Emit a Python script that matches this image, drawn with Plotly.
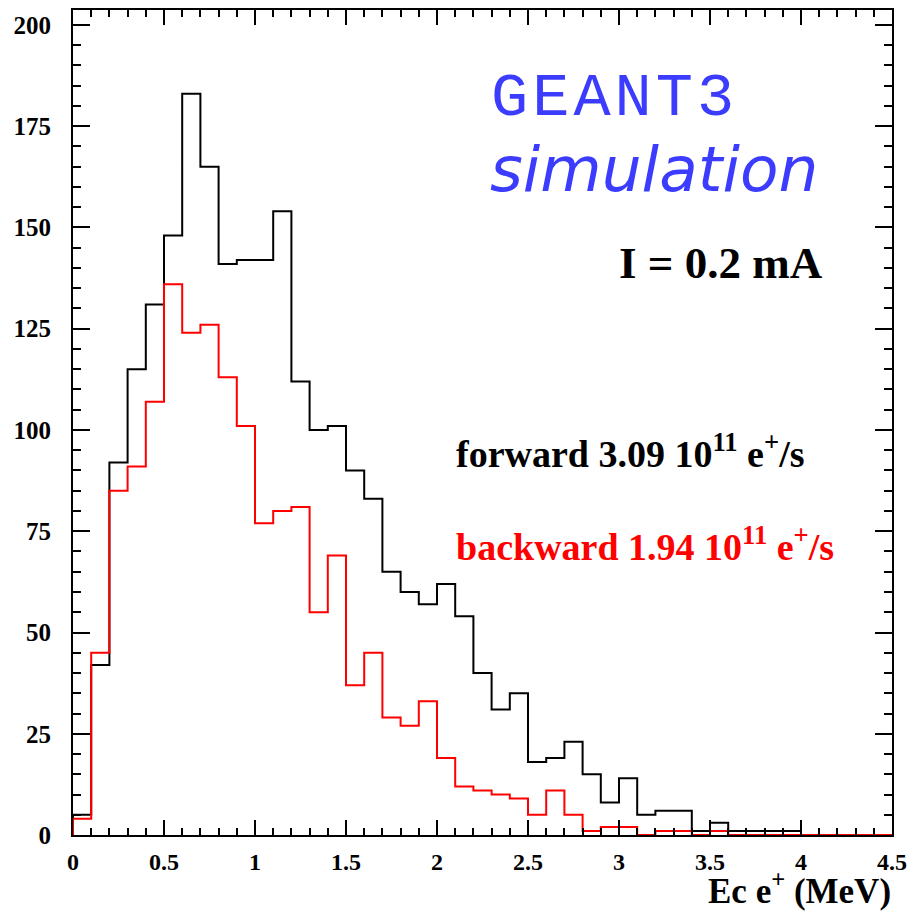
import numpy as np
import plotly.graph_objects as go

# Positron kinetic-energy spectra, 0.1 MeV bins from 0 to 4.5 MeV
bin_width = 0.1
n_bins = 45
edges = np.round(np.arange(n_bins + 1) * bin_width, 2)

forward = [5, 42, 92, 115, 131, 148, 183, 165, 141, 142,
           142, 154, 112, 100, 101, 90, 83, 65, 60, 57,
           62, 54, 40, 31, 35, 18, 19, 23, 15, 8,
           14, 5, 6, 6, 1, 3, 1, 1, 1, 1,
           0, 0, 0, 0, 0]

backward = [4, 45, 85, 91, 107, 136, 124, 126, 113, 101,
            77, 80, 81, 55, 69, 37, 45, 29, 27, 33,
            19, 12, 11, 10, 9, 5, 11, 5, 1, 2,
            2, 0, 1, 1, 0, 1, 0, 0, 0, 0,
            0, 0, 0, 0, 0]

y_ticks = [0, 25, 50, 75, 100, 125, 150, 175, 200]
x_ticks = [0, 0.5, 1, 1.5, 2, 2.5, 3, 3.5, 4, 4.5]
x_tick_text = ["0", "0.5", "1", "1.5", "2", "2.5", "3", "3.5", "4", "4.5"]

SERIF = "Liberation Serif, Times New Roman, serif"
BLUE = "#3c3cff"


def step_xy(values):
    # histogram outline: start on the axis, step through each bin, end on the axis
    xs = [edges[0]] + list(edges)
    ys = [0] + list(values) + [values[-1]]
    return xs, ys


fig = go.Figure()
for vals, col in [(forward, "#000000"), (backward, "#ff0000")]:
    xs, ys = step_xy(vals)
    fig.add_trace(go.Scatter(x=xs, y=ys, mode="lines", line_shape="hv",
                             line=dict(color=col, width=2), hoverinfo="skip",
                             showlegend=False))

axis_common = dict(
    showgrid=False, zeroline=False, showline=True, linecolor="black",
    linewidth=2, mirror="ticks", ticks="inside", tickcolor="black",
    tickwidth=2, ticklabeloverflow="allow",
)

fig.update_xaxes(
    range=[0, 4.5], tickvals=x_ticks, ticktext=x_tick_text, ticklen=15,
    tickfont=dict(family=SERIF, size=24, color="black", weight="bold"),
    minor=dict(ticks="inside", dtick=0.1, ticklen=7, tickwidth=2,
               tickcolor="black", showgrid=False),
    ticklabelstandoff=4,
    **axis_common,
)
fig.update_yaxes(
    range=[0, 203.7], tickvals=y_ticks, ticklen=17,
    tickfont=dict(family=SERIF, size=25, color="black", weight="bold"),
    minor=dict(ticks="inside", dtick=5, ticklen=8, tickwidth=2,
               tickcolor="black", showgrid=False),
    ticklabelstandoff=15,
    **axis_common,
)

W, H = 915, 911
L, R, T, B = 73, 15, 8, 76
pw, ph = W - L - R, H - T - B


def px(x):
    return (x - L) / pw


def py(y):
    return (H - B - y) / ph


annotations = [
    dict(text='<span style="letter-spacing:4px">GEANT3</span>', x=px(493),
         y=py(97), xanchor="left", yanchor="middle",
         font=dict(family="Liberation Mono, Courier New, monospace", size=62,
                   color=BLUE)),
    dict(text="simulation", x=px(492), y=py(168), xanchor="left",
         yanchor="middle",
         font=dict(family="DejaVu Sans, Verdana, sans-serif", size=63,
                   color=BLUE, style="italic")),
    dict(text="I = 0.2 mA", x=px(832), y=py(262), xanchor="right",
         yanchor="middle",
         font=dict(family=SERIF, size=45, color="black", weight="bold")),
    dict(text="forward 3.09 10<sup>11</sup> e<sup>+</sup>/s", x=px(458),
         y=py(450), xanchor="left", yanchor="middle",
         font=dict(family=SERIF, size=38, color="black", weight="bold")),
    dict(text="backward 1.94 10<sup>11</sup> e<sup>+</sup>/s", x=px(458),
         y=py(543), xanchor="left", yanchor="middle",
         font=dict(family=SERIF, size=38, color="#ff0000", weight="bold")),
    dict(text="Ec e<sup>+</sup> (MeV)", x=px(901), y=py(889), xanchor="right",
         yanchor="middle",
         font=dict(family=SERIF, size=35, color="black", weight="bold")),
]
for a in annotations:
    a.update(xref="paper", yref="paper", showarrow=False)

fig.update_layout(
    width=W, height=H, autosize=False,
    margin=dict(l=L, r=R, t=T, b=B, pad=0),
    paper_bgcolor="white", plot_bgcolor="white",
    annotations=annotations,
)

fig.write_html("out.html")
